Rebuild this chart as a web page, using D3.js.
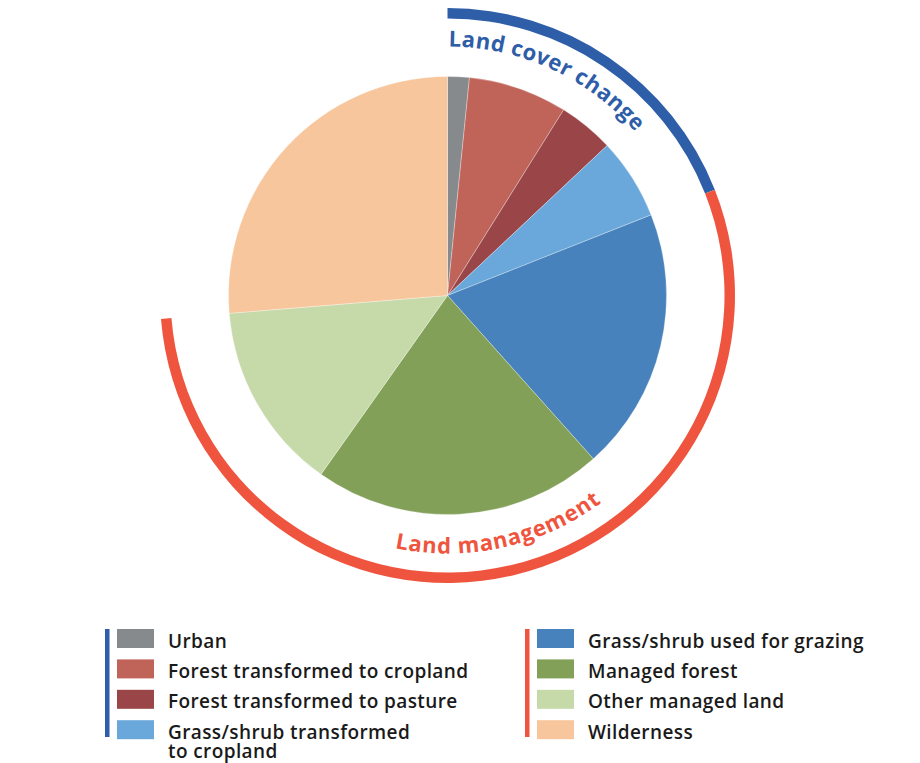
<!DOCTYPE html>
<html>
<head>
<meta charset="utf-8">
<script src="https://cdn.jsdelivr.net/npm/d3@7"></script>
<style>
  body { margin: 0; background: #fff; }
  svg { display: block; font-family: "Open Sans", sans-serif; }
</style>
</head>
<body>
<div class="display"></div>
<script>
// shares of land area (percent)
var categories = ["Urban", "Forest transformed to cropland", "Forest transformed to pasture",
  "Grass/shrub transformed to cropland", "Grass/shrub used for grazing", "Managed forest",
  "Other managed land", "Wilderness"];
var values = [1.6, 7.3, 4.1, 6.0, 19.4, 21.4, 13.9, 26.3];
var groups = ["cover", "cover", "cover", "cover", "manage", "manage", "manage", "none"];
var colors = ["#878a8c", "#c0645a", "#9a4648", "#6aa8db", "#4782bd", "#82a058", "#c5d9a9", "#f8c69c"];

var groupNames = ["cover", "manage"];
var groupLabels = ["Land cover change", "Land management"];
var groupColors = ["#2f5ea9", "#ef553e"];

// legend lines (second line for the long one)
var legendLines = [["Urban"], ["Forest transformed to cropland"], ["Forest transformed to pasture"],
  ["Grass/shrub transformed", "to cropland"], ["Grass/shrub used for grazing"], ["Managed forest"],
  ["Other managed land"], ["Wilderness"]];

var width = 920, height = 763;
var cx = 447.5, cy = 295.5;
var pieRadius = 219;

var svg = d3.select(".display").append("svg")
  .attr("width", width)
  .attr("height", height);

var data = categories.map(function(c, i) {
  return { name: c, value: values[i], group: groups[i], color: colors[i], lines: legendLines[i] };
});

var pie = d3.pie().sort(null).value(function(d) { return d.value; });
var arcs = pie(data);

var arcGen = d3.arc().innerRadius(0).outerRadius(pieRadius);

var g = svg.append("g").attr("transform", "translate(" + cx + "," + cy + ")");

g.selectAll("path.slice")
  .data(arcs)
  .enter().append("path")
  .attr("class", "slice")
  .attr("d", arcGen)
  .attr("fill", function(d) { return d.data.color; })
  .attr("stroke", "#fff")
  .attr("stroke-opacity", 0.5)
  .attr("stroke-width", 0.6);

// outer bands: span of each group's slices
var bandArc = d3.arc().innerRadius(277).outerRadius(287.5);
var bands = groupNames.map(function(name, i) {
  var mine = arcs.filter(function(a) { return a.data.group === name; });
  return {
    name: name,
    label: groupLabels[i],
    color: groupColors[i],
    startAngle: d3.min(mine, function(a) { return a.startAngle; }),
    endAngle: d3.max(mine, function(a) { return a.endAngle; })
  };
});

g.selectAll("path.band")
  .data(bands)
  .enter().append("path")
  .attr("class", "band")
  .attr("d", bandArc)
  .attr("fill", function(d) { return d.color; });

// text paths (angles clockwise from 12 o'clock), in the g's coordinates
function circlePath(r, a0, a1, ccw) {
  var p = d3.path();
  p.moveTo(r * Math.sin(a0), -r * Math.cos(a0));
  p.arc(0, 0, r, a0 - Math.PI / 2, a1 - Math.PI / 2, ccw);
  return p.toString();
}

var deg = Math.PI / 180;
g.append("path")
  .attr("id", "label-cover")
  .attr("fill", "none")
  .attr("d", circlePath(249, bands[0].startAngle, bands[0].endAngle + 20 * deg, false));
g.append("path")
  .attr("id", "label-manage")
  .attr("fill", "none")
  .attr("d", circlePath(258, 215 * deg, 120 * deg, true));

g.append("text")
  .attr("font-size", 22)
  .attr("font-weight", 700)
  .attr("letter-spacing", 0.4)
  .attr("fill", bands[0].color)
  .append("textPath")
  .attr("href", "#label-cover")
  .attr("startOffset", 1)
  .text(bands[0].label);

g.append("text")
  .attr("font-size", 22)
  .attr("font-weight", 700)
  .attr("letter-spacing", 0.8)
  .attr("fill", bands[1].color)
  .append("textPath")
  .attr("href", "#label-manage")
  .attr("startOffset", "50%")
  .attr("text-anchor", "middle")
  .text(bands[1].label);

// legend
var colX = [105, 525];
var rowStep = 30.4;
var legend = svg.append("g").attr("class", "legend");

groupNames.forEach(function(name, gi) {
  var items = data.filter(function(d) { return d.group === name || (gi === 1 && d.group === "none"); });
  var col = legend.append("g").attr("transform", "translate(" + colX[gi] + ",629)");

  col.append("rect")
    .attr("x", 0)
    .attr("y", 0)
    .attr("width", 4.5)
    .attr("height", 108)
    .attr("fill", groupColors[gi]);

  var rows = col.selectAll("g.row")
    .data(items)
    .enter().append("g")
    .attr("class", "row")
    .attr("transform", function(d, i) { return "translate(0," + (i * rowStep) + ")"; });

  rows.append("rect")
    .attr("x", 12)
    .attr("y", 0)
    .attr("width", 37)
    .attr("height", 19)
    .attr("fill", function(d) { return d.color; });

  rows.append("text")
    .attr("x", 63)
    .attr("y", 18.5)
    .attr("font-size", 19)
    .attr("font-weight", 600)
    .attr("letter-spacing", 0.4)
    .attr("fill", "#1a1a1a")
    .selectAll("tspan")
    .data(function(d) { return d.lines; })
    .enter().append("tspan")
    .attr("x", 63)
    .attr("dy", function(d, i) { return i === 0 ? 0 : 19.5; })
    .text(function(d) { return d; });
});
</script>
</body>
</html>
